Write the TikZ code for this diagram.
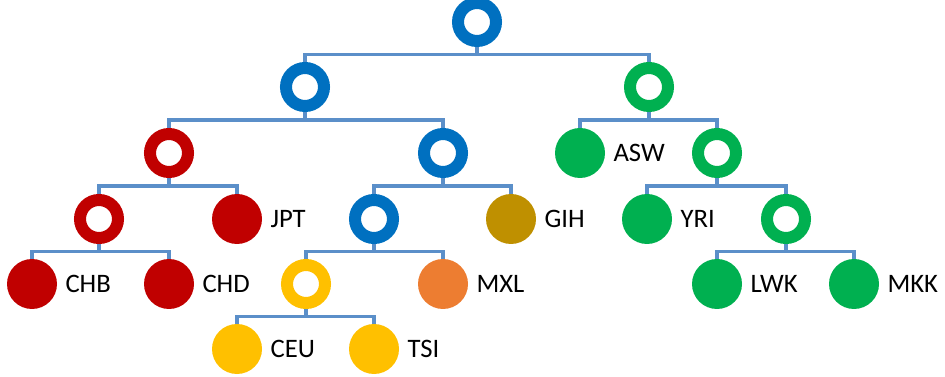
\documentclass[tikz,border=0pt]{standalone}
\usepackage{fontspec}
\setmainfont{Carlito}
\usetikzlibrary{calc,backgrounds}
\definecolor{cblue}{HTML}{0070C0}
\definecolor{cgreen}{HTML}{00B050}
\definecolor{cred}{HTML}{C00000}
\definecolor{cyellow}{HTML}{FFC000}
\definecolor{corange}{HTML}{ED7D31}
\definecolor{cgold}{HTML}{BF9000}
\definecolor{cline}{HTML}{5B8FC9}
\tikzset{
  ring/.style={circle, draw=#1, fill=white, line width=9pt, minimum size=28.5pt, inner sep=0pt},
  leaf/.style={circle, fill=#1, minimum size=37.5pt, inner sep=0pt},
  lbl/.style={label={[font=\fontsize{20}{24}\selectfont, inner sep=0pt, label distance=6pt]right:#1}},
  edge/.style={draw=cline, line width=2.3pt},
}
\newcommand{\branch}[3]{%
  \coordinate (m#1) at ($(#1)!0.5!(#2)$);
  \draw[edge] (#1.center) -- (#1 |- m#1);
  \draw[edge] (#2.center) -- (#2 |- m#1) -- (#3 |- m#1) -- (#3.center);
}
\begin{document}
\begin{tikzpicture}[x=0.75pt,y=-0.75pt]
\useasboundingbox (0,0) rectangle (945,377);
% internal nodes
\node[ring=cblue] (root) at (477,22) {};
\node[ring=cblue] (b1) at (305,87) {};
\node[ring=cgreen] (g1) at (649,87) {};
\node[ring=cred] (r1) at (169,153) {};
\node[ring=cblue] (b2) at (443,153) {};
\node[ring=cgreen] (g2) at (717,153) {};
\node[ring=cred] (r2) at (99,219) {};
\node[ring=cblue] (b3) at (374,219) {};
\node[ring=cgreen] (g3) at (786,219) {};
\node[ring=cyellow] (y1) at (306,284) {};
% leaves
\node[leaf=cgreen, lbl=ASW] (asw) at (580,153) {};
\node[leaf=cred, lbl=JPT] (jpt) at (237,219) {};
\node[leaf=cgold, lbl=GIH] (gih) at (511,219) {};
\node[leaf=cgreen, lbl=YRI] (yri) at (647,219) {};
\node[leaf=cred, lbl=CHB] (chb) at (32,284) {};
\node[leaf=cred, lbl=CHD] (chd) at (169,284) {};
\node[leaf=corange, lbl=MXL] (mxl) at (443,284) {};
\node[leaf=cgreen, lbl=LWK] (lwk) at (717,284) {};
\node[leaf=cgreen, lbl=MKK] (mkk) at (854,284) {};
\node[leaf=cyellow, lbl=CEU] (ceu) at (237,349) {};
\node[leaf=cyellow, lbl=TSI] (tsi) at (374,349) {};
\begin{scope}[on background layer]
\branch{root}{b1}{g1}
\branch{b1}{r1}{b2}
\branch{g1}{asw}{g2}
\branch{r1}{r2}{jpt}
\branch{b2}{b3}{gih}
\branch{g2}{yri}{g3}
\branch{r2}{chb}{chd}
\branch{b3}{y1}{mxl}
\branch{g3}{lwk}{mkk}
\branch{y1}{ceu}{tsi}
\end{scope}
\end{tikzpicture}
\end{document}
